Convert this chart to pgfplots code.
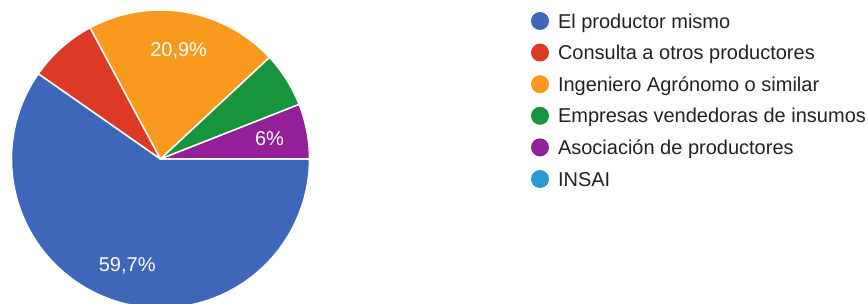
\documentclass[border=0pt]{standalone}
\usepackage{fontspec}
\setmainfont{Liberation Sans}
\usepackage{pgfplots}
\usepackage{pgfplotstable}
\pgfplotsset{compat=1.18}
\definecolor{c0}{HTML}{3E67B9}
\definecolor{c1}{HTML}{DC3A24}
\definecolor{c2}{HTML}{F99A1E}
\definecolor{c3}{HTML}{18943E}
\definecolor{c4}{HTML}{942099}
\definecolor{c5}{HTML}{2A9BD0}
\definecolor{legtext}{HTML}{222222}

% counts of answers (67 respondents)
\pgfplotstableread{
idx count
0 40
1 5
2 14
3 4
4 4
5 0
}\piedata

\begin{document}
\begin{tikzpicture}
\useasboundingbox (0,0) rectangle (868pt,304pt);
% total
\gdef\tot{0}
\foreach \i in {0,...,5}{%
  \pgfplotstablegetelem{\i}{count}\of\piedata
  \pgfmathsetmacro\t{\tot+\pgfplotsretval}%
  \xdef\tot{\t}%
}
% angles, clockwise from 3 o'clock
\gdef\cum{0}
\foreach \i in {0,...,5}{%
  \pgfplotstablegetelem{\i}{count}\of\piedata
  \pgfmathsetmacro\b{\cum-360*\pgfplotsretval/\tot}%
  \pgfmathsetmacro\m{(\cum+\b)/2}%
  \expandafter\xdef\csname sA\i\endcsname{\cum}%
  \expandafter\xdef\csname sB\i\endcsname{\b}%
  \expandafter\xdef\csname sM\i\endcsname{\m}%
  \xdef\cum{\b}%
}
\begin{axis}[
  x=1pt, y=1pt, xmin=0, xmax=868, ymin=0, ymax=304,
  hide axis, clip=true,
  legend cell align=left,
  legend image code/.code={\fill[#1, draw=none] (9pt,2.2pt) circle (9pt);},
  legend style={at={(axis cs:531,292)}, anchor=north west, draw=none, fill=none,
    inner sep=0pt, outer sep=0pt, row sep=10.4pt, column sep=9pt,
    font=\fontsize{20}{24}\selectfont, text=legtext,
    nodes={inner sep=0pt, text height=15pt, text depth=5pt}},
]
\pgfplotsinvokeforeach{0,...,4}{
  \fill[c#1, draw=white, line width=1.5pt, line join=round]
    (axis cs:160.5,145) -- ++(\csname sB#1\endcsname:149pt)
    arc[start angle=\csname sB#1\endcsname, end angle=\csname sA#1\endcsname, radius=149pt] -- cycle;
}
\path (axis cs:160.5,145) ++(\csname sM0\endcsname:111pt) node[text=white, font=\fontsize{20}{24}\selectfont, text depth=0pt, inner sep=0pt] {59,7\%};
\path (axis cs:160.5,145) ++(\csname sM2\endcsname:111pt) node[text=white, font=\fontsize{20}{24}\selectfont, text depth=0pt, inner sep=0pt] {20,9\%};
\path (axis cs:160.5,145) ++(\csname sM4\endcsname:111pt) node[text=white, font=\fontsize{20}{24}\selectfont, text depth=0pt, inner sep=0pt] {6\%};

\addlegendimage{fill=c0}
\addlegendentry{El productor mismo}
\addlegendimage{fill=c1}
\addlegendentry{Consulta a otros productores}
\addlegendimage{fill=c2}
\addlegendentry{Ingeniero Agrónomo o similar}
\addlegendimage{fill=c3}
\addlegendentry{Empresas vendedoras de insumos}
\addlegendimage{fill=c4}
\addlegendentry{Asociación de productores}
\addlegendimage{fill=c5}
\addlegendentry{INSAI}
\end{axis}
\end{tikzpicture}
\end{document}
